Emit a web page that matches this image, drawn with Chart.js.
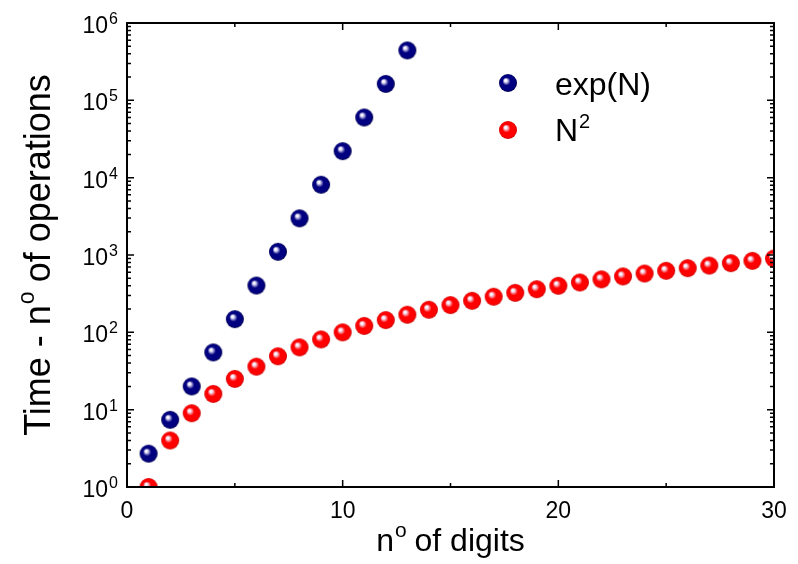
<!DOCTYPE html>
<html>
<head>
<meta charset="utf-8">
<script src="https://cdn.jsdelivr.net/npm/chart.js@4/dist/chart.umd.min.js"></script>
<style>
  body { margin: 0; background: #fff; }
  canvas { display: block; }
</style>
</head>
<body>
<canvas id="myChart" width="798" height="564"></canvas>
<script>
// values
var digits = [1,2,3,4,5,6,7,8,9,10,11,12,13,14,15,16,17,18,19,20,21,22,23,24,25,26,27,28,29,30];
var expN = [2.7, 7.4, 20, 55, 148, 403, 1100, 2980, 8100, 22000, 60000, 163000, 442000];
var nSquared = [1,4,9,16,25,36,49,64,81,100,121,144,169,196,225,256,289,324,361,400,441,484,529,576,625,676,729,784,841,900];
var xTicks = [0, 10, 20, 30];
var xMinor = [5, 15, 25];
var yDecades = [0, 1, 2, 3, 4, 5, 6];

var FONT = "'Liberation Sans', Arial, sans-serif";

function makeBall(base, dark, r) {
    var c = document.createElement('canvas');
    var s = Math.ceil(r * 2) + 2;
    c.width = s; c.height = s;
    var g = c.getContext('2d');
    var cx = s / 2, cy = s / 2;
    var grad = g.createRadialGradient(cx - r * 0.3, cy - r * 0.32, 0, cx, cy, r);
    grad.addColorStop(0, '#ffffff');
    grad.addColorStop(0.15, '#f2eeff');
    grad.addColorStop(0.45, base);
    grad.addColorStop(0.85, base);
    grad.addColorStop(1, dark);
    g.fillStyle = grad;
    g.beginPath();
    g.arc(cx, cy, r, 0, Math.PI * 2);
    g.fill();
    return c;
}

var blueBall = makeBall('#000080', '#00004c', 9);
var redBall = makeBall('#ff0000', '#c80000', 9);

function pts(ys) {
    var out = [];
    for (var i = 0; i < ys.length; i++) out.push({x: digits[i], y: ys[i]});
    return out;
}

// "base" followed by a raised smaller "sup"
function supText(ctx, base, sup, x, y, size, supSize, rise, align) {
    ctx.font = size + 'px ' + FONT;
    var w1 = ctx.measureText(base).width;
    ctx.font = supSize + 'px ' + FONT;
    var w2 = ctx.measureText(sup).width;
    var x0 = x;
    if (align === 'right') x0 = x - w1 - w2 - 1;
    if (align === 'center') x0 = x - (w1 + w2 + 1) / 2;
    ctx.textAlign = 'left';
    ctx.textBaseline = 'alphabetic';
    ctx.font = size + 'px ' + FONT;
    ctx.fillText(base, x0, y);
    ctx.font = supSize + 'px ' + FONT;
    ctx.fillText(sup, x0 + w1 + 1, y - rise);
}

var frame = {
    id: 'frame',
    afterDatasetsDraw: function(chart) {
        var ctx = chart.ctx;
        var a = chart.chartArea;
        var xs = chart.scales.x, ys = chart.scales.y;
        ctx.save();
        ctx.strokeStyle = '#000';
        ctx.fillStyle = '#000';
        ctx.lineWidth = 2;
        ctx.strokeRect(a.left, a.top, a.right - a.left, a.bottom - a.top);

        ctx.lineWidth = 1.5;
        ctx.beginPath();
        xTicks.forEach(function(v) {
            var p = xs.getPixelForValue(v);
            ctx.moveTo(p, a.bottom); ctx.lineTo(p, a.bottom - 7);
            ctx.moveTo(p, a.top); ctx.lineTo(p, a.top + 7);
        });
        xMinor.forEach(function(v) {
            var p = xs.getPixelForValue(v);
            ctx.moveTo(p, a.bottom); ctx.lineTo(p, a.bottom - 4);
            ctx.moveTo(p, a.top); ctx.lineTo(p, a.top + 4);
        });
        yDecades.forEach(function(d) {
            var p = ys.getPixelForValue(Math.pow(10, d));
            ctx.moveTo(a.left, p); ctx.lineTo(a.left + 7, p);
            ctx.moveTo(a.right, p); ctx.lineTo(a.right - 7, p);
            if (d < 6) {
                for (var m = 2; m <= 9; m++) {
                    var q = ys.getPixelForValue(m * Math.pow(10, d));
                    ctx.moveTo(a.left, q); ctx.lineTo(a.left + 4, q);
                    ctx.moveTo(a.right, q); ctx.lineTo(a.right - 4, q);
                }
            }
        });
        ctx.stroke();

        // tick labels
        ctx.font = '23px ' + FONT;
        ctx.textAlign = 'center';
        ctx.textBaseline = 'alphabetic';
        xTicks.forEach(function(v) {
            ctx.fillText(String(v), xs.getPixelForValue(v), a.bottom + 31);
        });
        yDecades.forEach(function(d) {
            var p = ys.getPixelForValue(Math.pow(10, d));
            supText(ctx, '10', String(d), a.left - 9, p + 10, 23, 16, 9, 'right');
        });

        // x title
        ctx.textAlign = 'left';
        ctx.font = '32px ' + FONT;
        var wn = ctx.measureText('n').width, wr = ctx.measureText(' of digits').width;
        ctx.font = '21px ' + FONT;
        var wo = ctx.measureText('o').width;
        var x0 = (a.left + a.right) / 2 - (wn + wo + wr) / 2;
        ctx.font = '32px ' + FONT;
        ctx.fillText('n', x0, 551);
        ctx.font = '21px ' + FONT;
        ctx.fillText('o', x0 + wn + 1, 537);
        ctx.font = '32px ' + FONT;
        ctx.fillText(' of digits', x0 + wn + wo, 551);

        // y title
        ctx.save();
        ctx.translate(50, (a.top + a.bottom) / 2);
        ctx.rotate(-Math.PI / 2);
        ctx.font = '36px ' + FONT;
        var w1 = ctx.measureText('Time - n').width, w3 = ctx.measureText(' of operations').width;
        ctx.font = '23px ' + FONT;
        var w2 = ctx.measureText('o').width;
        var s0 = -(w1 + w2 + w3) / 2;
        ctx.font = '36px ' + FONT;
        ctx.fillText('Time - n', s0, 0);
        ctx.font = '23px ' + FONT;
        ctx.fillText('o', s0 + w1 + 1, -16);
        ctx.font = '36px ' + FONT;
        ctx.fillText(' of operations', s0 + w1 + w2, 0);
        ctx.restore();

        // legend
        ctx.drawImage(blueBall, 508 - blueBall.width / 2, 83 - blueBall.height / 2);
        ctx.drawImage(redBall, 508 - redBall.width / 2, 130 - redBall.height / 2);
        ctx.font = '32px ' + FONT;
        ctx.textAlign = 'left';
        ctx.fillText('exp(N)', 555, 95);
        supText(ctx, 'N', '2', 555, 141, 32, 20, 13, 'left');
        ctx.restore();
    }
};

var chartdata = {
    datasets: [
        {
            label: 'exp(N)',
            data: pts(expN),
            pointStyle: blueBall,
            clip: 0
        },
        {
            label: 'N2',
            data: pts(nSquared),
            pointStyle: redBall,
            clip: 0
        }
    ]
};

var options = {
    responsive: false,
    animation: false,
    devicePixelRatio: 1,
    layout: { padding: { left: 127, right: 24, top: 23, bottom: 77 } },
    scales: {
        x: { type: 'linear', min: 0, max: 30, display: false },
        y: { type: 'logarithmic', min: 1, max: 1000000, display: false }
    },
    plugins: { legend: { display: false }, tooltip: { enabled: false } }
};

var graph = new Chart(document.getElementById('myChart'), {
    type: 'scatter',
    data: chartdata,
    options: options,
    plugins: [frame]
});
</script>
</body>
</html>
